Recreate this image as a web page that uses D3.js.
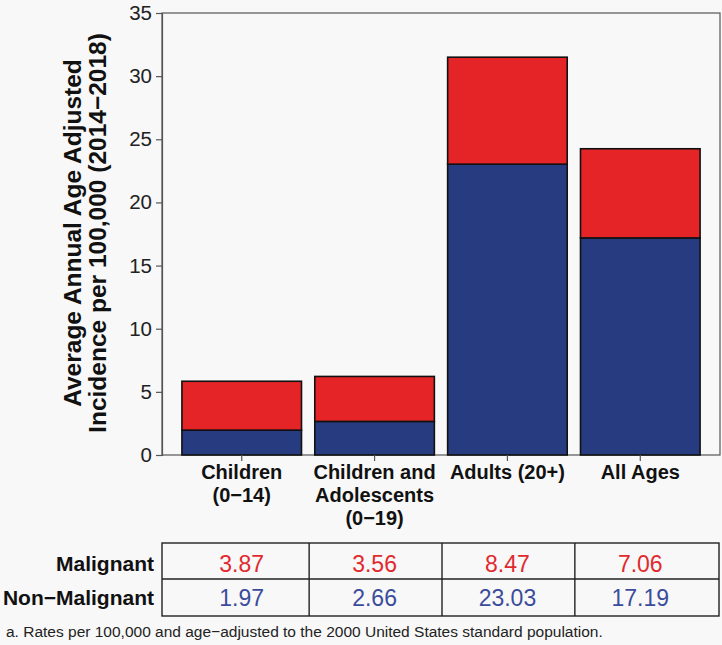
<!DOCTYPE html>
<html><head><meta charset="utf-8">
<script src="https://cdn.jsdelivr.net/npm/d3@7/dist/d3.min.js"></script>
<style>body{margin:0;background:#f8f8f8;}svg{display:block;font-family:"Liberation Sans",Arial,sans-serif;}</style>
</head><body><svg id="c" width="722" height="645"></svg>
<script>
const categories = [["Children","(0\u221214)"],["Children and","Adolescents","(0\u221219)"],["Adults (20+)"],["All Ages"]];
const catKeys = ["c","ca","a","all"];
const malignant = [3.87, 3.56, 8.47, 7.06];
const nonMalignant = [1.97, 2.66, 23.03, 17.19];
const yTicks = [0,5,10,15,20,25,30,35];
const rowLabels = ["Malignant","Non\u2212Malignant"];
const footnote = "a. Rates per 100,000 and age\u2212adjusted to the 2000 United States standard population.";

const svg = d3.select("#c");
svg.append("rect").attr("width",722).attr("height",645).attr("fill","#f8f8f8");
const L=162, R=720, T=13, B=455;
const x = d3.scaleBand().domain(catKeys).range([L,R]).paddingInner(0.1).paddingOuter(0.15);
const y = d3.scaleLinear().domain([0,35]).range([B,T]);
const RED="#e52427", BLUE="#273c80";

// panel border
svg.append("rect").attr("x",L).attr("y",T).attr("width",R-L).attr("height",B-T)
  .attr("fill","none").attr("stroke","#555").attr("stroke-width",1.2);

const data = catKeys.map((k,i)=>({k, nm:nonMalignant[i], m:malignant[i]}));
const g = svg.append("g");
g.selectAll("rect.nm").data(data).join("rect").attr("class","nm")
  .attr("x",d=>x(d.k)).attr("width",x.bandwidth())
  .attr("y",d=>y(d.nm)).attr("height",d=>y(0)-y(d.nm))
  .attr("fill",BLUE).attr("stroke","#111").attr("stroke-width",1.6);
g.selectAll("rect.m").data(data).join("rect").attr("class","m")
  .attr("x",d=>x(d.k)).attr("width",x.bandwidth())
  .attr("y",d=>y(d.nm+d.m)).attr("height",d=>y(d.nm)-y(d.nm+d.m))
  .attr("fill",RED).attr("stroke","#111").attr("stroke-width",1.6);

// y axis
const ya = svg.append("g").attr("transform",`translate(${L},0)`)
  .call(d3.axisLeft(y).tickValues(yTicks).tickSize(6).tickPadding(4).tickFormat(d3.format("d")));
ya.attr("font-size",20.5).attr("font-family","Liberation Sans, Arial, sans-serif");
ya.select(".domain").attr("stroke","#555").attr("stroke-width",1.2);
ya.selectAll(".tick line").attr("stroke","#555").attr("stroke-width",1.2);
ya.selectAll(".tick text").attr("fill","#222");

// x axis
const xa = svg.append("g").attr("transform",`translate(0,${B})`)
  .call(d3.axisBottom(x).tickSize(6).tickFormat(""));
xa.select(".domain").remove();
xa.selectAll(".tick line").attr("stroke","#555").attr("stroke-width",1.2);
catKeys.forEach((k,i)=>{
  const t = svg.append("text").attr("x",x(k)+x.bandwidth()/2).attr("y",479)
    .attr("text-anchor","middle").attr("font-size",20).attr("font-weight","bold").attr("fill","#111");
  categories[i].forEach((s,j)=>t.append("tspan").attr("x",x(k)+x.bandwidth()/2).attr("dy",j?23:0).text(s));
});

// y title
const yt = svg.append("text").attr("transform",`translate(0,233) rotate(-90)`)
  .attr("text-anchor","middle").attr("font-size",24.5).attr("font-weight","bold").attr("fill","#111");
yt.append("tspan").attr("x",0).attr("y",81).text("Average Annual Age Adjusted");
yt.append("tspan").attr("x",0).attr("y",106).text("Incidence per 100,000 (2014\u22122018)");

// table
const tT=543, tM=579, tB=616;
const edges = [L, ...catKeys.slice(1).map(k=>x(k)-x.step()*x.paddingInner()/2+1), R];
svg.append("rect").attr("x",L).attr("y",tT).attr("width",R-L-1).attr("height",tB-tT)
  .attr("fill","none").attr("stroke","#222").attr("stroke-width",1.4);
svg.append("line").attr("x1",L).attr("x2",R-1).attr("y1",tM).attr("y2",tM).attr("stroke","#222").attr("stroke-width",1.4);
edges.slice(1,-1).forEach(e=>svg.append("line").attr("x1",e).attr("x2",e).attr("y1",tT).attr("y2",tB).attr("stroke","#222").attr("stroke-width",1.4));
const rowsY=[571,605];
rowLabels.forEach((r,i)=>svg.append("text").attr("x",154).attr("y",rowsY[i]).attr("text-anchor","end")
  .attr("font-size",21).attr("font-weight","bold").attr("fill","#111").text(r));
const fmt = d3.format(".2f");
[malignant, nonMalignant].forEach((arr,ri)=>{
  arr.forEach((v,ci)=>{
    svg.append("text").attr("x",x(catKeys[ci])+x.bandwidth()/2).attr("y",rowsY[ri]+1)
      .attr("text-anchor","middle").attr("font-size",23).attr("fill",ri?"#3b4c9c":"#e02a2e").text(fmt(v));
  });
});
svg.append("text").attr("x",6).attr("y",637).attr("font-size",15.5).attr("fill","#222").text(footnote);
</script></body></html>
